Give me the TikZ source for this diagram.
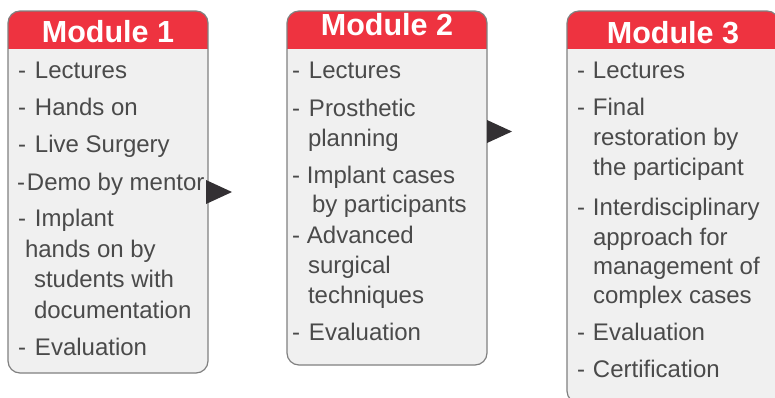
\documentclass[tikz,border=0pt]{standalone}
\usepackage{fontspec}
\setmainfont{Liberation Sans}
\usetikzlibrary{positioning}
\definecolor{modred}{HTML}{EE3340}
\definecolor{boxfill}{HTML}{F0F0F0}
\definecolor{boxline}{HTML}{808080}
\definecolor{txtgray}{HTML}{4A4A4A}
\definecolor{arrowgray}{HTML}{333033}
\newcommand{\dsh}[1]{\makebox[#1pt][l]{-}}

\begin{document}
\begin{tikzpicture}[x=1pt,y=1pt]
                \tikzstyle{every node}+=[inner sep=0pt, outer sep=0pt]
                \tikzstyle{module}=[draw=boxline, line width=1.2pt, fill=boxfill, rounded corners=12pt, minimum width=200pt, anchor=north west,
                  path picture={\fill[modred, sharp corners] (path picture bounding box.north west) rectangle ([yshift=-38pt]path picture bounding box.north east);}]
                \tikzstyle{modhead}=[text=white, font=\fontsize{30.5}{30}\selectfont\bfseries, anchor=base]
                \tikzstyle{itemtxt}=[text=txtgray, font=\fontsize{24}{28}\selectfont, anchor=base west]
                \useasboundingbox (0,0) rectangle (775,-397);
                \clip (0,0) rectangle (775,-397);
                % boxes
                \node [module, minimum height=362pt] (m1) at (8,-11) {};
                \node [module, minimum height=354pt] (m2) at (287,-11) {};
                \node [module, minimum height=392pt, minimum width=212pt] (m3) at (567,-11) {};
                \node [modhead] (h1) at ([yshift=-31]m1.north) {Module 1};
                \node [modhead] (h2) at ([yshift=-24]m2.north) {Module 2};
                \node [modhead] (h3) at ([yshift=-32]m3.north) {Module 3};
                % module 1
                \node [itemtxt] (a1) at (18,-78) {\dsh{17}Lectures};
                \node [itemtxt] (a2) at (18,-115) {\dsh{17}Hands on};
                \node [itemtxt] (a3) at (18,-152) {\dsh{17}Live Surgery};
                \node [itemtxt] (a4) at (17,-190) {\dsh{10}Demo by mentor};
                \node [itemtxt] (a5) at (18,-226) {\dsh{17}Implant};
                \node [itemtxt] (a6) at (25,-257) {hands on by};
                \node [itemtxt] (a7) at (34,-287) {students with};
                \node [itemtxt] (a8) at (34,-318) {documentation};
                \node [itemtxt] (a9) at (18,-355) {\dsh{17}Evaluation};
                % module 2
                \node [itemtxt] (b1) at (292,-78) {\dsh{17}Lectures};
                \node [itemtxt] (b2) at (292,-116) {\dsh{17}Prosthetic};
                \node [itemtxt] (b3) at (308,-146) {planning};
                \node [itemtxt] (b4) at (292,-183) {\dsh{15}Implant cases};
                \node [itemtxt] (b5) at (312,-212) {by participants};
                \node [itemtxt] (b6) at (292,-243) {\dsh{15}Advanced};
                \node [itemtxt] (b7) at (308,-273) {surgical};
                \node [itemtxt] (b8) at (308,-303) {techniques};
                \node [itemtxt] (b9) at (292,-340) {\dsh{17}Evaluation};
                % module 3
                \node [itemtxt] (c1) at (577,-78) {\dsh{16}Lectures};
                \node [itemtxt] (c2) at (577,-115) {\dsh{16}Final};
                \node [itemtxt] (c3) at (593,-145) {restoration by};
                \node [itemtxt] (c4) at (593,-175) {the participant};
                \node [itemtxt] (c5) at (577,-215) {\dsh{16}Interdisciplinary};
                \node [itemtxt] (c6) at (593,-245) {approach for};
                \node [itemtxt] (c7) at (593,-274) {management of};
                \node [itemtxt] (c8) at (593,-303) {complex cases};
                \node [itemtxt] (c9) at (577,-340) {\dsh{16}Evaluation};
                \node [itemtxt] (c10) at (577,-377) {\dsh{16}Certification};
                % arrows
                \fill [arrowgray] ([xshift=-2,yshift=12]m1.east) -- ++(26,-12) -- ++(-26,-12) -- cycle;
                \fill [arrowgray] ([yshift=68]m2.east) -- ++(25,-11.5) -- ++(-25,-11.5) -- cycle;
\end{tikzpicture}
\end{document}
